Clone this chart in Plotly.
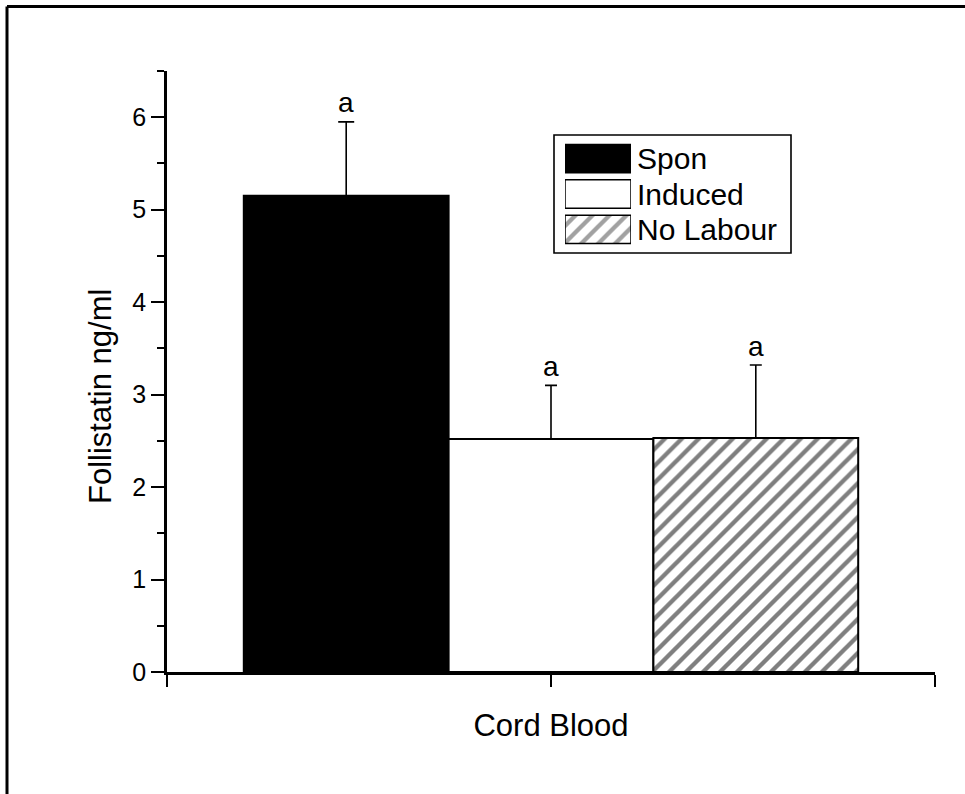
import plotly.graph_objects as go

# ---------------- data ----------------
categories = ["Cord Blood"]
series_names = ["Spon", "Induced", "No Labour"]
means = [5.15, 2.52, 2.53]
errors_up = [0.80, 0.58, 0.79]
sig_labels = ["a", "a", "a"]
y_ticks = [0, 1, 2, 3, 4, 5, 6]
y_title = "Follistatin ng/ml"

# ---------------- styles ----------------
fills = ["black", "white", "white"]
patterns = ["", "", "/"]
cap_widths = [8, 6, 6]
FONT = "Liberation Sans, Arial, sans-serif"

W, H = 965, 794
ML, MR, MT, MB = 167, 30, 71, 122
PW, PH = W - ML - MR, H - MT - MB


def pxx(p):
    return (p - ML) / PW


def pxy(p):
    return (H - MB - p) / PH


bargap = 0.2
n = len(series_names)
bw = (1 - bargap) / n
hatch = dict(fgcolor="black", bgcolor="white", size=12, solidity=0.36)

fig = go.Figure()
for i, name in enumerate(series_names):
    fig.add_trace(go.Bar(
        x=[0], y=[means[i]], name=name, showlegend=False,
        marker=dict(color=fills[i], line=dict(color="black", width=2),
                    pattern=dict(shape=patterns[i], **hatch)),
        error_y=dict(type="data", symmetric=False, array=[errors_up[i]], arrayminus=[0],
                     color="black", thickness=1.6, width=cap_widths[i]),
    ))

# significance letters above error bars
for i in range(n):
    xc = (i - (n - 1) / 2) * bw
    fig.add_annotation(x=xc, y=means[i] + errors_up[i], xref="x", yref="y",
                       text=sig_labels[i], showarrow=False, yanchor="middle", yshift=19,
                       font=dict(family=FONT, size=28, color="black"))

# y-axis title (placed as in the original, slightly below the axis centre)
fig.add_annotation(x=pxx(100), y=pxy(397), xref="paper", yref="paper",
                   text=y_title, textangle=-90, showarrow=False,
                   xanchor="center", yanchor="middle",
                   font=dict(family=FONT, size=31, color="black"))

# legend drawn as an inset axis of swatch bars
fig.add_trace(go.Bar(
    x=[1] * n, y=series_names, base=0, orientation="h", xaxis="x2", yaxis="y2",
    showlegend=False, hoverinfo="skip",
    marker=dict(color=fills, line=dict(color="black", width=1.5),
                pattern=dict(shape=patterns, **hatch)),
))

fig.update_layout(
    width=W, height=H,
    margin=dict(l=ML, r=MR, t=MT, b=MB),
    paper_bgcolor="white", plot_bgcolor="white",
    barmode="group", bargap=bargap, bargroupgap=0,
    font=dict(family=FONT, color="black"),
    xaxis=dict(range=[-0.5, 0.5], tickvals=[0], ticktext=categories,
               ticks="outside", ticklen=12, tickwidth=2, tickcolor="black",
               minor=dict(tick0=-0.5, dtick=0.5, ticks="outside", ticklen=12,
                          tickwidth=2, tickcolor="black"),
               showline=True, linecolor="black", linewidth=2.5,
               showgrid=False, zeroline=False, ticklabelstandoff=12,
               tickfont=dict(size=31)),
    yaxis=dict(range=[0, 6.5], tickvals=y_ticks,
               ticks="outside", ticklen=13, tickwidth=2, tickcolor="black",
               minor=dict(dtick=0.5, ticks="outside", ticklen=7, tickwidth=2,
                          tickcolor="black"),
               showline=True, linecolor="black", linewidth=2.5,
               showgrid=False, zeroline=False, tickfont=dict(size=25)),
    xaxis2=dict(domain=[pxx(565), pxx(631)], range=[0, 1], anchor="y2",
                visible=False, fixedrange=True),
    yaxis2=dict(domain=[pxy(247), pxy(141)], anchor="x2", side="right",
                type="category", categoryorder="array", categoryarray=series_names,
                tickmode="array", tickvals=series_names, ticktext=series_names,
                autorange="reversed", showgrid=False, zeroline=False, showline=False,
                ticks="", tickfont=dict(size=30), ticklabelstandoff=5, fixedrange=True),
    shapes=[
        dict(type="rect", xref="paper", yref="paper",
             x0=pxx(554), x1=pxx(791), y0=pxy(253), y1=pxy(135),
             line=dict(color="black", width=1.6), fillcolor="rgba(0,0,0,0)", layer="below"),
        dict(type="line", xref="paper", yref="paper",
             x0=pxx(7), x1=pxx(W + 10), y0=pxy(6.5), y1=pxy(6.5),
             line=dict(color="black", width=3)),
        dict(type="line", xref="paper", yref="paper",
             x0=pxx(7), x1=pxx(7), y0=pxy(6.5), y1=pxy(H + 10),
             line=dict(color="black", width=3)),
    ],
)

fig.write_html("out.html")
